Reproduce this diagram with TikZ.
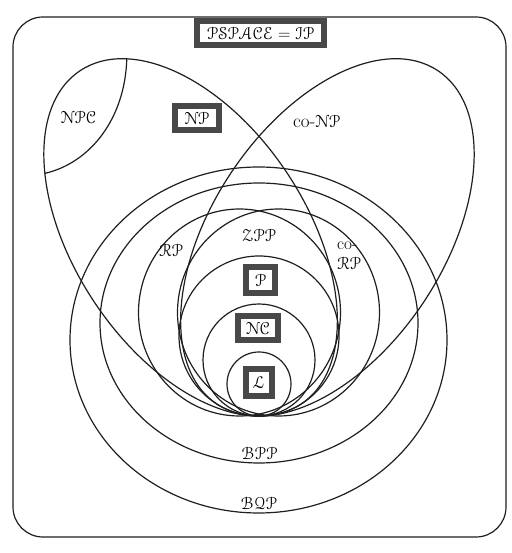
\documentclass[tikz,border=0pt]{standalone}
\usepackage{eucal}
\definecolor{boxgray}{RGB}{72,72,72}
\begin{document}
\begin{tikzpicture}[x=1pt,y=1pt,
  setline/.style={draw=black!88, line width=1.2pt},
  cbox/.style={draw=boxgray, line width=6pt, fill=white, inner sep=1pt, font=\LARGE},
  lbl/.style={inner sep=1pt, font=\LARGE}]
\useasboundingbox (0,0) rectangle (511,553);
\draw[setline, rounded corners=30pt] (13,16) rectangle (506,536);
% BQP, BPP
\draw[setline] (258.5,213) ellipse [x radius=188.5, y radius=173];
\draw[setline] (259,230) ellipse [x radius=159, y radius=140];
% RP, co-RP
\draw[setline] (239.5,240.5) ellipse [x radius=101, y radius=103.5];
\draw[setline] (278.5,240.5) ellipse [x radius=101, y radius=103.5];
% P, NC, L
\draw[setline] (259,217) circle [radius=80];
\draw[setline] (259,193) circle [radius=56];
\draw[setline] (259,169) circle [radius=32];
% NP and co-NP
\begin{scope}[shift={(190.6,315.6)}, rotate=-56.5]
  \draw[setline] (0,0) ellipse [x radius=200, y radius=116];
  \coordinate (npcA) at (157:200pt and 116pt);
  \coordinate (npcB) at (228:200pt and 116pt);
\end{scope}
\begin{scope}[shift={(327.4,315.6)}, rotate=56.5]
  \draw[setline] (0,0) ellipse [x radius=200, y radius=116];
\end{scope}
% NPC boundary
\draw[setline] (npcA) .. controls (125,434) and (90,390) .. (npcB);
% boxed labels
\node[cbox, minimum width=127pt, minimum height=24pt] (pspace) at (260.5,520) {$\mathcal{PSPACE}=\mathcal{IP}$};
\node[cbox, minimum width=44.6pt, minimum height=23.4pt] (np) at (197,435) {$\mathcal{NP}$};
\node[cbox, minimum width=29pt, minimum height=26.7pt] (p) at (260.5,273) {$\mathcal{P}$};
\node[cbox, minimum width=40pt, minimum height=24.6pt] (nc) at (258,225) {$\mathcal{NC}$};
\node[cbox, minimum width=25.7pt, minimum height=27.3pt] (l) at (259,170.3) {$\mathcal{L}$};
% plain labels
\node[lbl] (npc) at (78.5,436) {$\mathcal{NPC}$};
\node[lbl] (conp) at (316.7,431.5) {{\fontsize{19}{22}\selectfont co-}$\mathcal{NP}$};
\node[lbl] (rp) at (171,303) {$\mathcal{RP}$};
\node[lbl] (zpp) at (259,318) {$\mathcal{ZPP}$};
\node[lbl, align=left] (corp) at (349,297) {co-\\[-2pt]$\mathcal{RP}$};
\node[lbl] (bpp) at (259.5,100) {$\mathcal{BPP}$};
\node[lbl] (bqp) at (259,50) {$\mathcal{BQP}$};
\end{tikzpicture}
\end{document}
